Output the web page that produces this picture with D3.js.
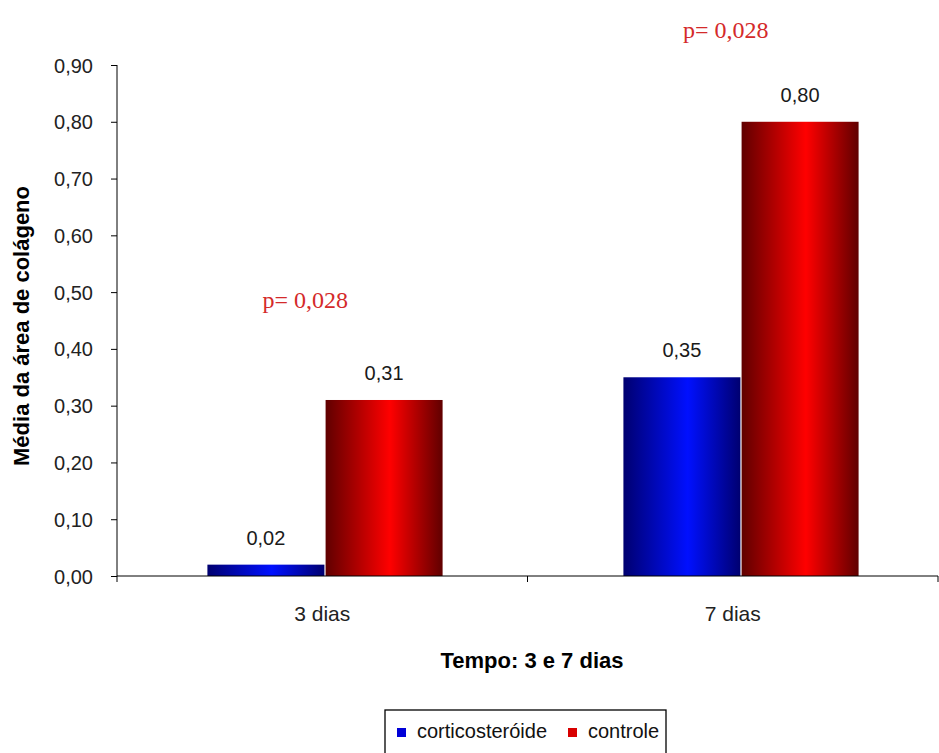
<!DOCTYPE html>
<html>
<head>
<meta charset="utf-8">
<script src="https://cdn.jsdelivr.net/npm/d3@7"></script>
<style>
  html, body { margin: 0; padding: 0; background: #fff; }
  svg { display: block; }
</style>
</head>
<body>
<svg id="chart" width="939" height="753"></svg>
<script>
// Data
const categories = ["3 dias", "7 dias"];
const seriesNames = ["corticosteróide", "controle"];
const corticosteroide = [0.02, 0.35];
const controle = [0.31, 0.80];
const pLabels = ["p= 0,028", "p= 0,028"];
const pLabelValues = [0.472, 0.947];
const yTicks = [0, 0.1, 0.2, 0.3, 0.4, 0.5, 0.6, 0.7, 0.8, 0.9];

(function () {
const svg = d3.select("#chart");
const fmt = v => d3.format(".2f")(v).replace(".", ",");

const plotLeft = 117, plotRight = 938, plotTop = 65, plotBottom = 576;

// Category axis scale, and a slightly wider band scale for the bar groups
const x = d3.scaleBand().domain(categories).range([plotLeft, plotRight]);
const xBars = d3.scaleBand().domain(categories).range([plotLeft, plotRight + 11]);
const y = d3.scaleLinear().domain([0, 0.9]).range([plotBottom, plotTop]);
const inner = d3.scaleBand().domain(seriesNames).range([0, xBars.bandwidth()])
  .paddingOuter(0.765).paddingInner(0.01);

// Gradients: dark at both sides, bright toward the middle
const defs = svg.append("defs");
const grads = [
  { id: "gBlue", dark: "#000070", bright: "#0010ff" },
  { id: "gRed", dark: "#600000", bright: "#ff0000" }
];
grads.forEach(g => {
  const lg = defs.append("linearGradient").attr("id", g.id)
    .attr("x1", "0%").attr("x2", "100%").attr("y1", "0%").attr("y2", "0%");
  lg.append("stop").attr("offset", "0%").attr("stop-color", g.dark);
  lg.append("stop").attr("offset", "55%").attr("stop-color", g.bright);
  lg.append("stop").attr("offset", "100%").attr("stop-color", g.dark);
});
const fills = ["url(#gBlue)", "url(#gRed)"];
const legendColors = ["#0000d8", "#d80000"];

const series = [corticosteroide, controle];
const font = "Arial, 'Liberation Sans', sans-serif";
const barX = (i, si) => xBars(categories[i]) + inner(seriesNames[si]);

// Bars with value labels
series.forEach((vals, si) => {
  svg.append("g").selectAll("rect").data(vals).join("rect")
    .attr("x", (d, i) => barX(i, si))
    .attr("y", d => y(d))
    .attr("width", inner.bandwidth())
    .attr("height", d => y(0) - y(d))
    .attr("fill", fills[si]);
  svg.append("g").selectAll("text").data(vals).join("text")
    .attr("x", (d, i) => barX(i, si) + inner.bandwidth() / 2)
    .attr("y", d => y(d) - 20)
    .attr("text-anchor", "middle")
    .attr("font-family", font).attr("font-size", 20).attr("fill", "#1a1a1a")
    .text(d => fmt(d));
});

// p-value annotations
const pShift = [-17, -7];
svg.append("g").selectAll("text").data(pLabels).join("text")
  .attr("x", (d, i) => x(categories[i]) + x.bandwidth() / 2 + pShift[i])
  .attr("y", (d, i) => y(pLabelValues[i]))
  .attr("text-anchor", "middle")
  .attr("font-family", "'Liberation Serif', 'DejaVu Serif', serif")
  .attr("font-size", 24).attr("fill", "#d42a2a")
  .text(d => d);

// Y axis
const yAxis = svg.append("g").attr("transform", `translate(${plotLeft},0)`)
  .call(d3.axisLeft(y).tickValues(yTicks).tickFormat(fmt).tickSize(6).tickPadding(18));
yAxis.select(".domain").attr("stroke", "#000").attr("d", `M0,${plotTop}V${plotBottom}`);
yAxis.selectAll("line").attr("stroke", "#000");
yAxis.selectAll("text").attr("font-family", font).attr("font-size", 20)
  .attr("fill", "#222").attr("dy", "0.35em");

// X axis with boundary ticks
const xAxisG = svg.append("g").attr("transform", `translate(0,${plotBottom})`);
xAxisG.append("line").attr("x1", plotLeft).attr("x2", plotRight).attr("stroke", "#000");
const bounds = [plotLeft, x(categories[1]), plotRight];
xAxisG.selectAll("line.tick").data(bounds).join("line").attr("class", "tick")
  .attr("x1", d => d).attr("x2", d => d).attr("y1", 0).attr("y2", 6).attr("stroke", "#000");
xAxisG.selectAll("text").data(categories).join("text")
  .attr("x", d => x(d) + x.bandwidth() / 2)
  .attr("y", 45)
  .attr("text-anchor", "middle")
  .attr("font-family", font).attr("font-size", 21).attr("fill", "#222")
  .text(d => d);

// Axis titles
svg.append("text")
  .attr("transform", "translate(29,326) rotate(-90)")
  .attr("text-anchor", "middle")
  .attr("font-family", font).attr("font-weight", "bold").attr("font-size", 22)
  .text("Média da área de colágeno");
svg.append("text")
  .attr("x", 532)
  .attr("y", 668)
  .attr("text-anchor", "middle")
  .attr("font-family", font).attr("font-weight", "bold").attr("font-size", 22)
  .text("Tempo: 3 e 7 dias");

// Legend
const lg = svg.append("g").attr("transform", "translate(385,710)");
lg.append("rect").attr("width", 281).attr("height", 50)
  .attr("fill", "#fff").attr("stroke", "#000").attr("stroke-width", 1.3);
const items = lg.selectAll("g").data(seriesNames).join("g")
  .attr("transform", (d, i) => `translate(${i === 0 ? 12 : 183},0)`);
items.append("rect").attr("x", 0).attr("y", 18).attr("width", 9).attr("height", 9)
  .attr("fill", (d, i) => legendColors[i]);
items.append("text").attr("x", 20).attr("y", 28)
  .attr("font-family", font).attr("font-size", 20).attr("fill", "#111")
  .text(d => d);
})();
</script>
</body>
</html>
